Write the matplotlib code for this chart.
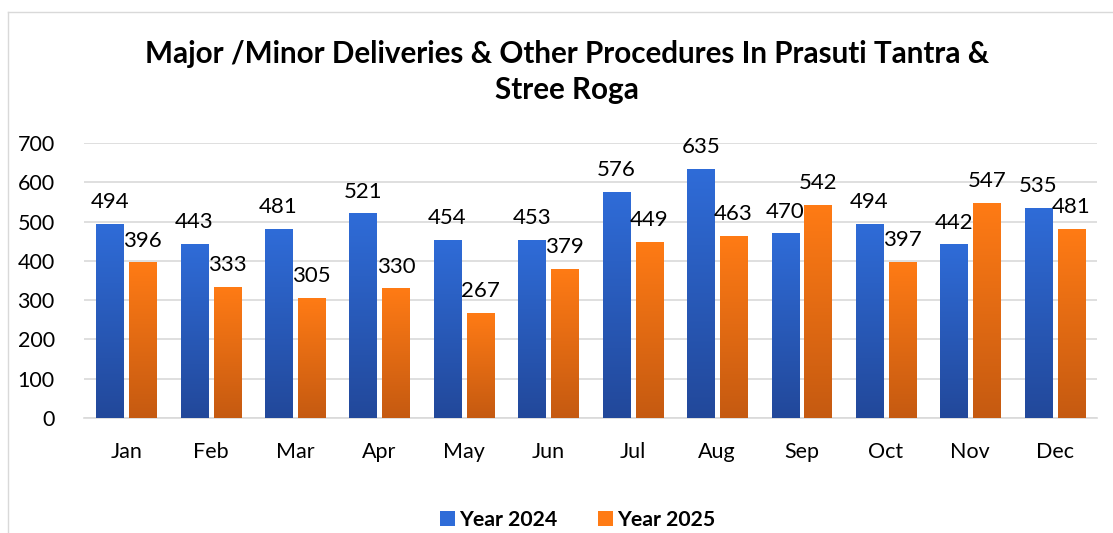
import matplotlib
matplotlib.use("Agg")
import matplotlib.pyplot as plt
import numpy as np
from matplotlib.colors import LinearSegmentedColormap
from matplotlib.lines import Line2D
from matplotlib.patches import Patch

months = ["Jan", "Feb", "Mar", "Apr", "May", "Jun", "Jul", "Aug", "Sep", "Oct", "Nov", "Dec"]
y2024 = [494, 443, 481, 521, 454, 453, 576, 635, 470, 494, 442, 535]
y2025 = [396, 333, 305, 330, 267, 379, 449, 463, 542, 397, 547, 481]
series_names = ["Year 2024", "Year 2025"]
yticks = [0, 100, 200, 300, 400, 500, 600, 700]

plt.rcParams['font.family'] = ['Lato', 'DejaVu Sans']

W, H = 1113, 533
fig = plt.figure(figsize=(W / 100, H / 100), dpi=100)
ax = fig.add_axes([84 / W, 1 - 418 / H, (1097 - 84) / W, (418 - 143) / H])

blue_top, blue_bot = "#2F6CD8", "#22489A"
org_top, org_bot = "#FF7B15", "#C55A11"
cm_blue = LinearSegmentedColormap.from_list("b", [blue_bot, blue_top])
cm_org = LinearSegmentedColormap.from_list("o", [org_bot, org_top])

x = np.arange(len(months))
bw = 0.32
off = 0.195
grad = np.linspace(0, 1, 256).reshape(-1, 1)

def gbars(xs, vals, cmap):
    bars = ax.bar(xs, vals, width=bw, color="none", edgecolor="none", zorder=3)
    for b in bars:
        bx = b.get_x()
        w, h = b.get_width(), b.get_height()
        im = ax.imshow(grad, extent=[bx, bx + w, 0, h], origin="lower", aspect="auto",
                       cmap=cmap, zorder=3, vmin=0, vmax=1)
        im.set_clip_path(b)
    return bars

gbars(x - off, y2024, cm_blue)
gbars(x + off, y2025, cm_org)

for xs, vals in ((x - off, y2024), (x + off, y2025)):
    for xi, v in zip(xs, vals):
        ax.annotate(f"{v}", (xi, v), xytext=(0, 8.5), textcoords="offset points",
                    ha="center", va="bottom", fontsize=16, color="#000000", zorder=5)

ax.set_xlim(-0.5, len(months) - 0.5)
ax.set_ylim(0, 700)
ax.set_yticks(yticks)
ax.set_yticklabels([str(t) for t in yticks], fontsize=15.5)
ax.set_xticks(x)
ax.set_xticklabels(months, fontsize=15.5)
ax.tick_params(axis="both", length=0, colors="#000000")
ax.tick_params(axis="y", pad=21)
ax.tick_params(axis="x", pad=17)
ax.grid(axis="y", color="#D9D9D9", linewidth=1.2, zorder=0)
ax.set_axisbelow(True)
for s in ["top", "right", "left"]:
    ax.spines[s].set_visible(False)
ax.spines["bottom"].set_color("#D9D9D9")
ax.spines["bottom"].set_linewidth(1.2)

fig.text(567 / W, 1 - 72 / H,
         "Major /Minor Deliveries & Other Procedures In Prasuti Tantra &\nStree Roga",
         ha="center", va="center", fontsize=21.3, fontweight="bold",
         linespacing=1.35)

handles = [Patch(facecolor=blue_top, edgecolor="none"),
           Patch(facecolor=org_top, edgecolor="none")]
fig.legend(handles, series_names, loc="center", bbox_to_anchor=(578 / W, 1 - 520 / H),
           ncol=2, frameon=False, prop={"weight": "bold", "size": 15.3},
           handlelength=0.7, handleheight=0.7, handletextpad=0.2, columnspacing=1.9)

fig.add_artist(Line2D([8 / W, 1.0], [1 - 12 / H, 1 - 12 / H], color="#D9D9D9", lw=1,
                      transform=fig.transFigure))
fig.add_artist(Line2D([8 / W, 8 / W], [1 - 12 / H, 0], color="#D9D9D9", lw=1,
                      transform=fig.transFigure))

fig.savefig("out.png", dpi=100)
